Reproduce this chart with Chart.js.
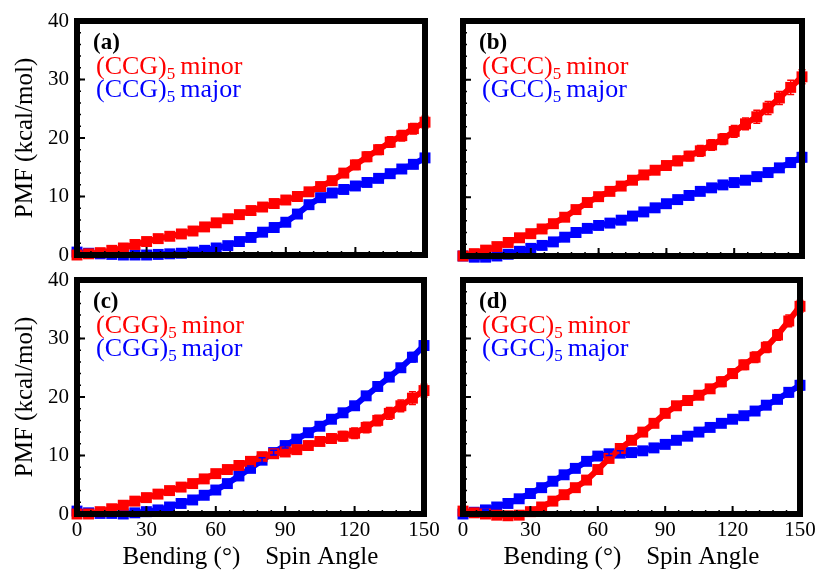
<!DOCTYPE html>
<html>
<head>
<meta charset="utf-8">
<script src="https://cdn.jsdelivr.net/npm/chart.js@4"></script>
<style>
  body { margin: 0; background: #fff; }
  #wrap { position: relative; width: 817px; height: 572px; }
  .panel { position: absolute; }
</style>
</head>
<body>
<div id="wrap">
  <div class="panel" style="left:0;top:0;width:440px;height:268px"><canvas id="pa"></canvas></div>
  <div class="panel" style="left:440px;top:0;width:377px;height:268px"><canvas id="pb"></canvas></div>
  <div class="panel" style="left:0;top:268px;width:440px;height:304px"><canvas id="pc"></canvas></div>
  <div class="panel" style="left:440px;top:268px;width:377px;height:304px"><canvas id="pd"></canvas></div>
</div>
<script>
// bending / spin angle (degrees)
const angles = [0,5,10,15,20,25,30,35,40,45,50,55,60,65,70,75,80,85,90,95,100,105,110,115,120,125,130,135,140,145,150];
const xTicks = [0, 30, 60, 90, 120, 150];
const yTicks = [0, 10, 20, 30, 40];

// (a) CCG
const ccgMinor = [0,0.2,0.4,0.8,1.2,1.8,2.3,2.8,3.2,3.6,4.1,4.8,5.5,6.2,6.9,7.6,8.2,8.8,9.4,10.0,10.8,11.7,12.7,14.0,15.4,16.8,18.0,19.3,20.4,21.6,22.7];
const ccgMajor = [0.5,0.3,0.2,0.1,0,0,0,0.1,0.2,0.3,0.5,0.8,1.2,1.6,2.3,3.0,3.9,4.7,5.6,7.0,8.6,9.8,10.6,11.2,11.8,12.4,13.1,13.9,14.7,15.5,16.6];
const ccgMinorErr = [0,0.1,0.1,0.1,0.2,0.2,0.2,0.3,0.3,0.3,0.3,0.4,0.4,0.4,0.5,0.5,0.5,0.6,0.6,0.6,0.6,0.7,0.7,0.7,0.8,0.8,0.8,0.9,0.9,0.9,1.0];
const ccgMajorErr = [0,0,0.1,0.1,0.1,0.1,0.1,0.1,0.1,0.2,0.2,0.2,0.2,0.2,0.3,0.3,0.3,0.3,0.4,0.4,0.4,0.4,0.5,0.5,0.5,0.5,0.6,0.6,0.6,0.7,0.7];

// (b) GCC
const gccMinor = [0,0.4,1.0,1.6,2.3,3.1,3.8,4.6,5.5,6.6,7.9,9.1,10.1,11.0,11.9,12.9,13.8,14.6,15.4,16.2,17.0,17.9,18.9,19.9,21.2,22.5,23.7,25.2,26.9,28.7,30.5];
const gccMajor = [0,-0.2,-0.2,0,0.3,0.8,1.3,1.8,2.4,3.2,4.0,4.7,5.2,5.6,6.1,6.8,7.5,8.2,8.9,9.6,10.3,11.0,11.6,12.1,12.5,12.9,13.5,14.2,15.0,15.9,16.8];
const gccMinorErr = [0,0.1,0.1,0.2,0.2,0.2,0.3,0.3,0.3,0.4,0.4,0.5,0.5,0.5,0.6,0.6,0.7,0.7,0.7,0.8,0.8,0.9,0.9,0.9,1.0,1.0,1.1,1.1,1.1,1.2,1.2];
const gccMajorErr = [0,0,0.1,0.1,0.1,0.1,0.2,0.2,0.2,0.2,0.3,0.3,0.3,0.3,0.4,0.4,0.4,0.4,0.5,0.5,0.5,0.5,0.6,0.6,0.6,0.6,0.7,0.7,0.7,0.8,0.8];

// (c) CGG
const cggMinor = [0,0,0.4,0.9,1.5,2.2,2.8,3.4,4.0,4.6,5.2,6.0,6.9,7.6,8.3,9.0,9.8,10.3,10.6,11.0,11.7,12.4,12.9,13.3,13.8,14.8,16.0,17.2,18.5,19.8,21.1];
const cggMajor = [0.5,0.2,0.1,0.1,0,0.2,0.4,0.7,1.2,1.8,2.4,3.2,4.1,5.2,6.5,7.8,9.2,10.5,11.7,12.8,13.9,15.0,16.2,17.3,18.5,20.2,21.8,23.4,25.0,26.8,28.8];
const cggMinorErr = [0,0.1,0.1,0.1,0.2,0.2,0.2,0.3,0.3,0.3,0.4,0.4,0.4,0.5,0.5,0.5,0.6,0.6,0.6,0.7,0.7,0.7,0.8,0.8,0.9,0.9,0.9,1.0,1.0,1.1,1.1];
const cggMajorErr = [0,0,0.1,0.1,0.1,0.1,0.1,0.2,0.2,0.2,0.2,0.3,0.3,0.3,0.3,0.4,0.4,0.4,0.4,0.5,0.5,0.5,0.5,0.6,0.6,0.6,0.7,0.7,0.7,0.8,0.8];

// (d) GGC
const ggcMinor = [0.5,0.2,0,-0.2,-0.3,-0.2,0.4,1.2,2.2,3.3,4.5,5.8,7.6,9.5,11.2,12.6,14.0,15.5,17.2,18.5,19.4,20.3,21.4,22.6,24.0,25.5,26.8,28.5,30.6,33.0,35.5];
const ggcMajor = [0,0.3,0.7,1.2,1.8,2.6,3.5,4.5,5.6,6.7,7.8,9.0,9.9,10.3,10.4,10.5,10.8,11.3,11.9,12.6,13.3,14.0,14.8,15.5,16.2,16.8,17.6,18.6,19.6,20.8,22.0];
const ggcMinorErr = [0,0.1,0.1,0.1,0.1,0.2,0.2,0.2,0.3,0.3,0.3,0.4,0.4,0.4,0.5,0.5,0.5,0.6,0.6,0.6,0.7,0.7,0.7,0.8,0.8,0.8,0.9,0.9,0.9,1.0,1.0];
const ggcMajorErr = [0,0,0.1,0.1,0.1,0.1,0.2,0.2,0.2,0.2,0.3,0.3,0.3,0.3,0.4,0.4,0.4,0.4,0.5,0.5,0.5,0.5,0.6,0.6,0.6,0.6,0.7,0.7,0.7,0.8,0.8];

const RED = "#ff0000";
const BLUE = "#0000ff";
const SERIF = "'Liberation Serif', 'Times New Roman', serif";

function toPoints(ys) {
    return angles.map((a, i) => ({ x: a, y: ys[i] }));
}

// no automatic label padding, so the plot box lands where we want it
function noPad(s) {
    s.paddingTop = 0;
    s.paddingBottom = 0;
    s.paddingLeft = 0;
    s.paddingRight = 0;
}

// draws thick frame, inward ticks, error bars and the in-panel labels
const framePlugin = {
    id: "frame",
    afterDatasetsDraw(chart) {
        const ctx = chart.ctx;
        const area = chart.chartArea;
        const xs = chart.scales.x;
        const ys = chart.scales.y;
        const opts = chart.options.plugins.frame;

        // error bars
        chart.data.datasets.forEach((ds) => {
            ctx.save();
            ctx.strokeStyle = ds.borderColor;
            ctx.lineWidth = 1.5;
            ds.data.forEach((p, i) => {
                const e = ds.errors[i];
                if (!e) return;
                const px = xs.getPixelForValue(p.x);
                const y1 = ys.getPixelForValue(p.y - e);
                const y2 = ys.getPixelForValue(p.y + e);
                ctx.beginPath();
                ctx.moveTo(px, y1); ctx.lineTo(px, y2);
                ctx.moveTo(px - 3.5, y1); ctx.lineTo(px + 3.5, y1);
                ctx.moveTo(px - 3.5, y2); ctx.lineTo(px + 3.5, y2);
                ctx.stroke();
            });
            ctx.restore();
        });

        ctx.save();
        ctx.strokeStyle = "#000";
        // minor ticks
        ctx.lineWidth = 1.5;
        ctx.beginPath();
        for (let v = 6; v < 150; v += 6) {
            const px = xs.getPixelForValue(v);
            ctx.moveTo(px, area.bottom); ctx.lineTo(px, area.bottom - 4);
        }
        for (let v = 2; v < 40; v += 2) {
            const py = ys.getPixelForValue(v);
            ctx.moveTo(area.left, py); ctx.lineTo(area.left + 4, py);
        }
        ctx.stroke();
        // major ticks
        ctx.lineWidth = 2;
        ctx.beginPath();
        xTicks.forEach((v) => {
            const px = xs.getPixelForValue(v);
            ctx.moveTo(px, area.bottom); ctx.lineTo(px, area.bottom - 8);
        });
        yTicks.forEach((v) => {
            const py = ys.getPixelForValue(v);
            ctx.moveTo(area.left, py); ctx.lineTo(area.left + 8, py);
        });
        ctx.stroke();
        // frame
        ctx.lineWidth = 6;
        ctx.strokeRect(area.left, area.top, area.right - area.left, area.bottom - area.top);

        // panel letter
        ctx.textBaseline = "alphabetic";
        ctx.textAlign = "left";
        ctx.fillStyle = "#000";
        ctx.font = "bold 23px " + SERIF;
        ctx.fillText(opts.letter, area.left + 16, area.top + 28);

        // legend lines: (XXX)5 minor / major
        const lines = [
            { seq: opts.seq, word: "minor", color: RED, base: area.top + 53 },
            { seq: opts.seq, word: "major", color: BLUE, base: area.top + 76 },
        ];
        lines.forEach((l) => {
            let x = area.left + 19;
            ctx.fillStyle = l.color;
            ctx.font = "26px " + SERIF;
            const head = "(" + l.seq + ")";
            ctx.fillText(head, x, l.base);
            x += ctx.measureText(head).width;
            ctx.font = "17px " + SERIF;
            ctx.fillText("5", x, l.base + 5);
            x += ctx.measureText("5").width + 5;
            ctx.font = "26px " + SERIF;
            ctx.fillText(l.word, x, l.base);
        });
        ctx.restore();
    },
};

function makePanel(id, cfg) {
    const el = document.getElementById(id);
    return new Chart(el.getContext("2d"), {
        type: "line",
        data: {
            datasets: [
                {
                    label: "(" + cfg.seq + ")5 minor",
                    data: toPoints(cfg.minor),
                    errors: cfg.minorErr,
                    borderColor: RED,
                    backgroundColor: RED,
                    borderWidth: 6,
                    pointStyle: "rect",
                    pointRadius: 3.5,
                    pointHoverRadius: 3.5,
                    tension: 0,
                    clip: false,
                },
                {
                    label: "(" + cfg.seq + ")5 major",
                    data: toPoints(cfg.major),
                    errors: cfg.majorErr,
                    borderColor: BLUE,
                    backgroundColor: BLUE,
                    borderWidth: 6,
                    pointStyle: "rect",
                    pointRadius: 3.5,
                    pointHoverRadius: 3.5,
                    tension: 0,
                    clip: false,
                },
            ],
        },
        options: {
            responsive: true,
            maintainAspectRatio: false,
            animation: false,
            layout: { padding: { top: cfg.top, right: cfg.right, left: 0, bottom: 0 } },
            plugins: {
                legend: { display: false },
                tooltip: { enabled: false },
                frame: { letter: cfg.letter, seq: cfg.seq },
            },
            scales: {
                x: {
                    type: "linear",
                    min: 0,
                    max: 150,
                    afterBuildTicks: (s) => { s.ticks = xTicks.map((v) => ({ value: v })); },
                    grid: { display: false, drawTicks: false },
                    border: { display: false },
                    ticks: {
                        display: cfg.xLabels,
                        padding: 4,
                        color: "#000",
                        maxRotation: 0,
                        font: { family: SERIF, size: 21 },
                    },
                    title: {
                        display: cfg.xLabels,
                        text: "Bending (\u00b0)    Spin Angle",
                        color: "#000",
                        padding: { top: 0, bottom: 0 },
                        font: { family: SERIF, size: 25 },
                    },
                    afterFit: (s) => { s.height = cfg.xHeight; noPad(s); },
                },
                y: {
                    min: 0,
                    max: 40,
                    afterBuildTicks: (s) => { s.ticks = yTicks.map((v) => ({ value: v })); },
                    grid: { display: false, drawTicks: false },
                    border: { display: false },
                    ticks: {
                        display: cfg.yLabels,
                        padding: 8,
                        color: "#000",
                        font: { family: SERIF, size: 21 },
                    },
                    title: {
                        display: cfg.yLabels,
                        text: "PMF (kcal/mol)",
                        color: "#000",
                        padding: { top: 10, bottom: 0 },
                        font: { family: SERIF, size: 25 },
                    },
                    afterFit: (s) => { s.width = cfg.yWidth; noPad(s); },
                },
            },
        },
        plugins: [framePlugin],
    });
}

makePanel("pa", { letter: "(a)", seq: "CCG", minor: ccgMinor, major: ccgMajor, minorErr: ccgMinorErr, majorErr: ccgMajorErr,
    top: 21, right: 15, xHeight: 13, yWidth: 77, xLabels: false, yLabels: true });
makePanel("pb", { letter: "(b)", seq: "GCC", minor: gccMinor, major: gccMajor, minorErr: gccMinorErr, majorErr: gccMajorErr,
    top: 21, right: 15, xHeight: 12, yWidth: 23, xLabels: false, yLabels: false });
makePanel("pc", { letter: "(c)", seq: "CGG", minor: cggMinor, major: cggMajor, minorErr: cggMinorErr, majorErr: cggMajorErr,
    top: 12, right: 16, xHeight: 58, yWidth: 77, xLabels: true, yLabels: true });
makePanel("pd", { letter: "(d)", seq: "GGC", minor: ggcMinor, major: ggcMajor, minorErr: ggcMinorErr, majorErr: ggcMajorErr,
    top: 12, right: 17, xHeight: 58, yWidth: 23, xLabels: true, yLabels: false });
</script>
</body>
</html>
